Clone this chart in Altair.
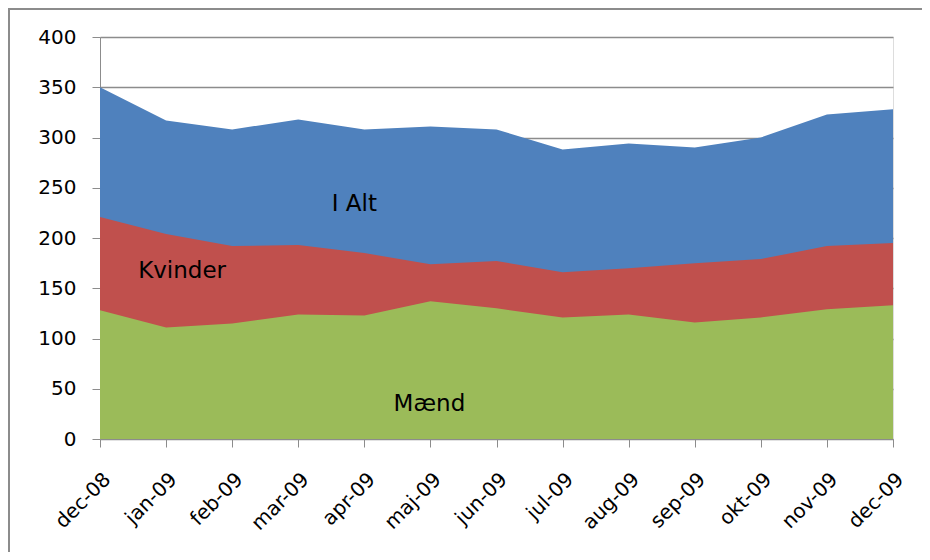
import altair as alt
import pandas as pd

months = ["dec-08", "jan-09", "feb-09", "mar-09", "apr-09", "maj-09", "jun-09",
          "jul-09", "aug-09", "sep-09", "okt-09", "nov-09", "dec-09"]
i_alt = [350, 317, 308, 318, 308, 311, 308, 288, 294, 290, 300, 323, 328]
kvinder = [221, 204, 192, 193, 185, 174, 177, 166, 170, 175, 179, 192, 195]
maend = [128, 111, 115, 124, 123, 137, 130, 121, 124, 116, 121, 129, 133]

series_names = ["I Alt", "Kvinder", "Mænd"]
series_colors = ["#4F81BD", "#C0504D", "#9BBB59"]

label_text = ["I Alt", "Kvinder", "Mænd"]
label_month = ["apr-09", "jan-09", "maj-09"]
label_value = [234, 167, 35]
label_dx = [-10, 16, -1]

FONT = "DejaVu Sans"

x_enc = alt.X("month:N", sort=months,
              scale=alt.Scale(type="point", padding=0),
              axis=alt.Axis(title=None, labelAngle=-45, labelAlign="right",
                            labelBaseline="top", labelPadding=22,
                            labelFontSize=20, labelFont=FONT, labelColor="#000000",
                            tickSize=8, tickColor="#8c8c8c", domainColor="#8c8c8c",
                            grid=False))
y_enc = alt.Y("value:Q", scale=alt.Scale(domain=[0, 400], nice=False),
              axis=alt.Axis(title=None, values=list(range(0, 401, 50)),
                            labelFontSize=20, labelFont=FONT, labelColor="#000000",
                            labelPadding=16, tickSize=8, tickColor="#8c8c8c",
                            domainColor="#8c8c8c", grid=True, gridColor="#8c8c8c",
                            gridWidth=1.5))

layers = []
for name, vals, col in zip(series_names, [i_alt, kvinder, maend], series_colors):
    df = pd.DataFrame({"month": months, "value": vals})
    layers.append(alt.Chart(df).mark_area(color=col, opacity=1, line=False)
                  .encode(x=x_enc, y=y_enc))

for t, m, v, dx in zip(label_text, label_month, label_value, label_dx):
    ldf = pd.DataFrame({"month": [m], "value": [v], "text": [t]})
    layers.append(alt.Chart(ldf).mark_text(font=FONT, fontSize=23, color="#000000",
                                           dx=dx, align="center", baseline="middle")
                  .encode(x=alt.X("month:N", sort=months), y="value:Q", text="text:N"))

frame_top = alt.Chart(pd.DataFrame({"a": [0]})).mark_rule(color="#8c8c8c", strokeWidth=2).encode(
    x=alt.value(-92), x2=alt.value(830), y=alt.value(-28))
frame_left = alt.Chart(pd.DataFrame({"a": [0]})).mark_rule(color="#8c8c8c", strokeWidth=2).encode(
    x=alt.value(-91), y=alt.value(-29), y2=alt.value(520))

chart = alt.layer(*layers, frame_top, frame_left).properties(
    width=793, height=402,
    autosize=alt.AutoSizeParams(type="none"),
    padding={"left": 92, "top": 29, "right": 29, "bottom": 113},
).configure_view(stroke=None).configure(background="white")

chart.save("out.html", embed_options={"renderer": "svg", "actions": False})
